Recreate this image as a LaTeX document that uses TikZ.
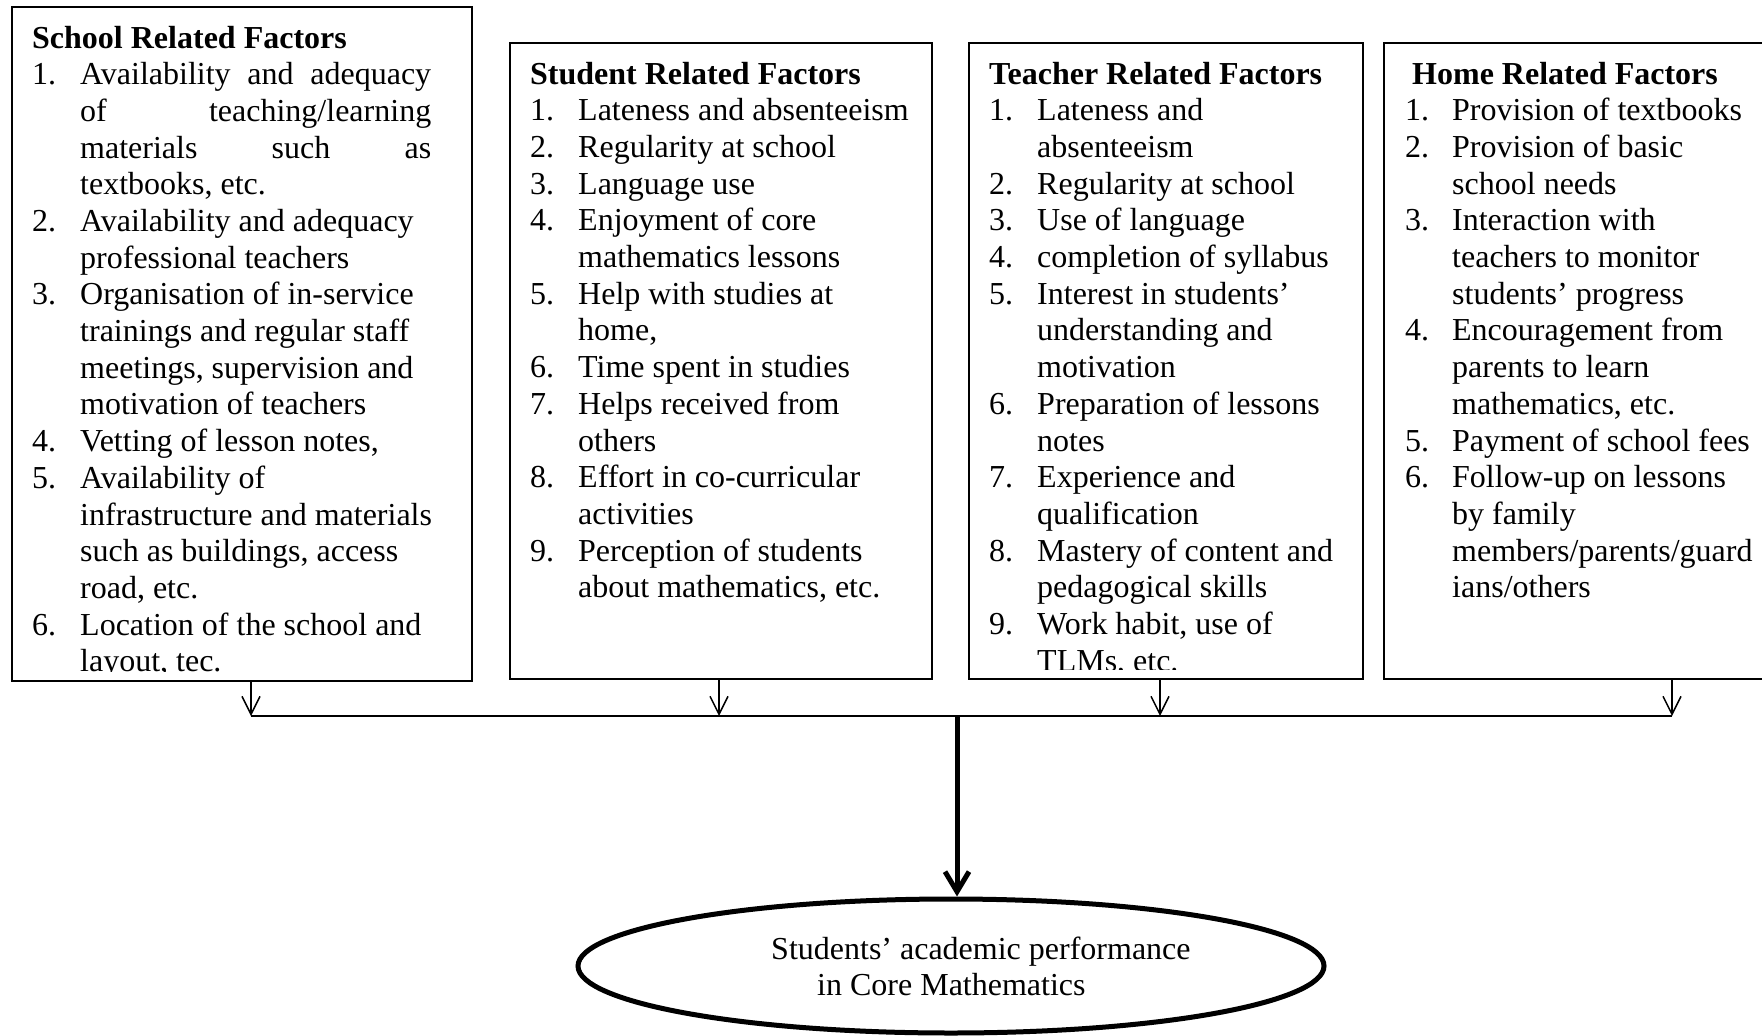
\documentclass[tikz,border=0pt]{standalone}
\usepackage{fontspec}
\setmainfont{Liberation Serif}
\usetikzlibrary{arrows.meta,shapes.geometric}

\begin{document}
\begin{tikzpicture}
[%%%%%%%%%%%%%%%%%%%%%%%%%%%%%%
x=1pt,y=-1pt,
factor/.style={rectangle,draw=black,line width=1.5pt,anchor=north west,inner sep=0pt},
items/.style={anchor=base west,inner sep=0pt,font=\fontsize{32}{36.7}\selectfont},
feed/.style={draw=black,line width=1.5pt,-{Straight Barb[length=18pt,width=18pt]}},
bus/.style={draw=black,line width=2pt},
bigarrow/.style={draw=black,line width=5pt,-{Straight Barb[length=20pt,width=24pt]}},
outcome/.style={ellipse,draw=black,line width=5pt,inner sep=0pt},
]%%%%%%%%%%%%%%%%%%%%%%%%%%%%%%

\clip (0,0) rectangle (1762,1036);

% the four boxes
\node[factor,minimum width=460pt,minimum height=674pt] (school) at (11,6){};
\node[factor,minimum width=422pt,minimum height=636pt] (student) at (509,42){};
\node[factor,minimum width=394pt,minimum height=636pt] (teacher) at (968,42){};
\node[factor,minimum width=420pt,minimum height=636pt] (home) at (1383,42){};

\begin{scope}
\clip (school.north west) rectangle ([yshift=10pt]school.south east);
\node[items] (schooltext) at ([shift={(21pt,-42pt)}]school.north west){%
\begin{tabular}[t]{@{}p{48pt}@{}l@{}}
\multicolumn{2}{@{}l@{}}{\bfseries School Related Factors}\\
1. & \makebox[351pt][s]{Availability and adequacy}\\
   & \makebox[351pt][s]{of teaching/learning}\\
   & \makebox[351pt][s]{materials such as}\\
   & textbooks, etc.\\
2. & Availability and adequacy\\
   & professional teachers\\
3. & Organisation of in-service\\
   & trainings and regular staff\\
   & meetings, supervision and\\
   & motivation of teachers\\
4. & Vetting of lesson notes,\\
5. & Availability of\\
   & infrastructure and materials\\
   & such as buildings, access\\
   & road, etc.\\
6. & Location of the school and\\
   & layout, tec.
\end{tabular}};
\end{scope}

\node[items] (studenttext) at ([shift={(21pt,-42pt)}]student.north west){%
\begin{tabular}[t]{@{}p{48pt}@{}l@{}}
\multicolumn{2}{@{}l@{}}{\bfseries Student Related Factors}\\
1. & Lateness and absenteeism\\
2. & Regularity at school\\
3. & Language use\\
4. & Enjoyment of core\\
   & mathematics lessons\\
5. & Help with studies at\\
   & home,\\
6. & Time spent in studies\\
7. & Helps received from\\
   & others\\
8. & Effort in co-curricular\\
   & activities\\
9. & Perception of students\\
   & about mathematics, etc.
\end{tabular}};

\begin{scope}
\clip (teacher.north west) rectangle ([yshift=10pt]teacher.south east);
\node[items] (teachertext) at ([shift={(21pt,-42pt)}]teacher.north west){%
\begin{tabular}[t]{@{}p{48pt}@{}l@{}}
\multicolumn{2}{@{}l@{}}{\bfseries Teacher Related Factors}\\
1. & Lateness and\\
   & absenteeism\\
2. & Regularity at school\\
3. & Use of language\\
4. & completion of syllabus\\
5. & Interest in students’\\
   & understanding and\\
   & motivation\\
6. & Preparation of lessons\\
   & notes\\
7. & Experience and\\
   & qualification\\
8. & Mastery of content and\\
   & pedagogical skills\\
9. & Work habit, use of\\
   & TLMs, etc.
\end{tabular}};
\end{scope}

\node[items] (hometext) at ([shift={(22pt,-42pt)}]home.north west){%
\begin{tabular}[t]{@{}p{47pt}@{}l@{}}
\multicolumn{2}{@{}l@{}}{\hspace*{7pt}\bfseries Home Related Factors}\\
1. & Provision of textbooks\\
2. & Provision of basic\\
   & school needs\\
3. & Interaction with\\
   & teachers to monitor\\
   & students’ progress\\
4. & Encouragement from\\
   & parents to learn\\
   & mathematics, etc.\\
5. & Payment of school fees\\
6. & Follow-up on lessons\\
   & by family\\
   & members/parents/guard\\
   & ians/others
\end{tabular}};

% arrows down to the bus line
\foreach \b/\x in {school/251,student/719,teacher/1160,home/1672}{
\coordinate (\b-bus) at (\x,716);
\draw[feed] (\b-bus |- \b.south) -- (\b-bus);
}
\draw[bus] (school-bus) -- (home-bus);

% outcome
\node[outcome,minimum width=746pt,minimum height=134pt] (outcome) at (951,966){};
\node[items] (outcometext) at (771,959){%
\begin{tabular}[t]{@{}l@{}}
Students’ academic performance\\
\hspace*{46pt}in Core Mathematics
\end{tabular}};

\coordinate (hub) at (957,716);
\draw[bigarrow] (hub) -- (hub |- outcome.north);
\end{tikzpicture}
\end{document}
